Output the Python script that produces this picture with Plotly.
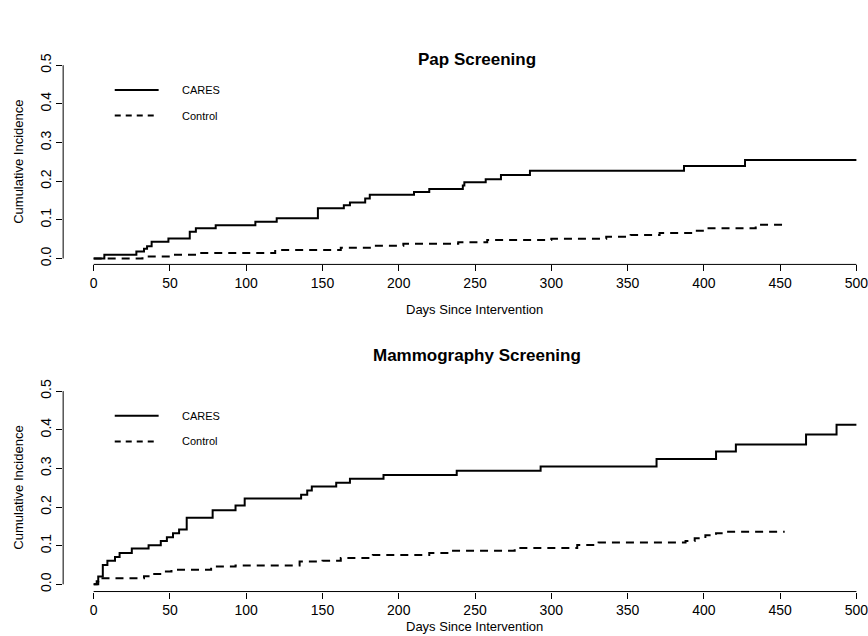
import plotly.graph_objects as go

# ---- data ----
pap_cares_days = [0, 7, 28, 33, 35, 38, 49, 63, 67, 80, 106, 120, 147, 164, 168, 178, 181,
                  210, 220, 242, 243, 257, 267, 286, 387, 427, 500]
pap_cares_ci = [0, 0.010, 0.018, 0.025, 0.032, 0.043, 0.052, 0.069, 0.078, 0.086, 0.095, 0.104,
                0.130, 0.138, 0.145, 0.155, 0.165, 0.172, 0.180, 0.189, 0.197, 0.205, 0.216,
                0.227, 0.239, 0.255, 0.255]

pap_control_days = [0, 32, 50, 69, 119, 162, 185, 203, 239, 258, 300, 336, 352, 371, 393, 400, 434, 454]
pap_control_ci = [0, 0.005, 0.0095, 0.014, 0.022, 0.028, 0.033, 0.038, 0.042, 0.048, 0.051,
                  0.056, 0.061, 0.066, 0.072, 0.078, 0.087, 0.087]

mammo_cares_days = [0, 2, 3, 6, 9, 14, 17, 25, 36, 44, 48, 52, 56, 61, 78, 93, 99, 136, 140, 143,
                    159, 168, 190, 238, 293, 369, 408, 421, 467, 487, 500]
mammo_cares_ci = [0, 0.008, 0.020, 0.050, 0.061, 0.071, 0.081, 0.093, 0.101, 0.112, 0.122, 0.132,
                  0.142, 0.172, 0.192, 0.204, 0.222, 0.232, 0.243, 0.253, 0.263, 0.273, 0.283,
                  0.294, 0.305, 0.324, 0.344, 0.362, 0.388, 0.413, 0.413]

mammo_control_days = [0, 3, 33, 39, 45, 51, 77, 93, 135, 150, 162, 183, 220, 233, 276, 317, 331,
                      388, 394, 401, 408, 414, 453]
mammo_control_ci = [0, 0.016, 0.021, 0.027, 0.033, 0.038, 0.046, 0.049, 0.059, 0.061, 0.068,
                    0.076, 0.081, 0.087, 0.094, 0.102, 0.108, 0.112, 0.119, 0.127, 0.132, 0.136,
                    0.136]

panel_titles = ["Pap Screening", "Mammography Screening"]
series_names = ["CARES", "Control"]
x_ticks = [0, 50, 100, 150, 200, 250, 300, 350, 400, 450, 500]
y_ticks = [0.0, 0.1, 0.2, 0.3, 0.4, 0.5]
x_label = "Days Since Intervention"
y_label = "Cumulative Incidence"

# ---- figure ----
W, H = 868, 636
FONT = "Liberation Sans, Arial, Helvetica, sans-serif"
fig = go.Figure()

panels = [
    dict(cares=(pap_cares_days, pap_cares_ci), control=(pap_control_days, pap_control_ci),
         xa="x", ya="y", dom=[1 - 261.7 / H, 1 - 54 / H], yr=[-0.0153, 0.5153],
         title_y=1 - 54 / H, xlab_y=1 - 307 / H),
    dict(cares=(mammo_cares_days, mammo_cares_ci), control=(mammo_control_days, mammo_control_ci),
         xa="x2", ya="y2", dom=[1 - 593 / H, 1 - 382.7 / H], yr=[-0.0187, 0.5187],
         title_y=1 - 354 / H, xlab_y=1 - 628 / H),
]

x_dom = [63.3 / W, 1.0]
x_range = [-20, 506.3]

shapes = []
annotations = []
for i, p in enumerate(panels):
    d, v = p["cares"]
    fig.add_trace(go.Scatter(x=d, y=v, mode="lines", line=dict(shape="hv", color="black", width=2),
                             name=series_names[0], showlegend=False, xaxis=p["xa"], yaxis=p["ya"]))
    d, v = p["control"]
    fig.add_trace(go.Scatter(x=d, y=v, mode="lines",
                             line=dict(shape="hv", color="black", width=2, dash="8px,6px"),
                             name=series_names[1], showlegend=False, xaxis=p["xa"], yaxis=p["ya"]))
    suffix = "" if i == 0 else "2"
    common_x = dict(domain=x_dom, range=x_range, tickvals=x_ticks, ticks="outside", ticklen=6,
                    tickwidth=1, tickcolor="black", showline=False, showgrid=False, zeroline=False,
                    ticklabeloverflow="allow",
                    tickfont=dict(family=FONT, size=14, color="black"), anchor="y" + suffix)
    common_y = dict(domain=p["dom"], range=p["yr"], tickvals=y_ticks, tickformat=".1f",
                    ticks="outside", ticklen=6, tickwidth=1, tickcolor="black", showline=False,
                    showgrid=False, zeroline=False, tickangle=-90,
                    tickfont=dict(family=FONT, size=14, color="black"), anchor="x" + suffix)
    fig.layout["xaxis" + suffix] = common_x
    fig.layout["yaxis" + suffix] = common_y
    xref = "x" + suffix
    yref = "y" + suffix
    # R-style axis lines spanning first to last tick
    shapes.append(dict(type="line", xref=xref, yref=yref + " domain", x0=x_ticks[0], x1=x_ticks[-1],
                       y0=0, y1=0, line=dict(color="black", width=1)))
    shapes.append(dict(type="line", xref=xref + " domain", yref=yref, x0=0, x1=0,
                       y0=y_ticks[0], y1=y_ticks[-1], line=dict(color="black", width=1)))
    # legend (drawn like R's legend box without border)
    for k, (yy, dash) in enumerate([(85, "solid"), (111, "6px,5px")]):
        ypix = yy if i == 0 else yy + 330
        ypap = 1 - ypix / H
        shapes.append(dict(type="line", xref="paper", yref="paper", x0=115 / W, x1=159 / W,
                           y0=ypap, y1=ypap, line=dict(color="black", width=2, dash=dash)))
        annotations.append(dict(xref="paper", yref="paper", x=180 / W, y=ypap, text=series_names[k],
                                showarrow=False, xanchor="left", yanchor="middle",
                                font=dict(family=FONT, size=11, color="black")))
    annotations.append(dict(xref="paper", yref="paper", x=478 / W, y=p["title_y"],
                            text="<b>" + panel_titles[i] + "</b>", showarrow=False,
                            xanchor="center", yanchor="middle",
                            font=dict(family=FONT, size=17, color="black")))
    annotations.append(dict(xref="paper", yref="paper", x=476 / W, y=p["xlab_y"], text=x_label,
                            showarrow=False, xanchor="center", yanchor="middle",
                            font=dict(family=FONT, size=13, color="black")))
    annotations.append(dict(xref="paper", yref=yref, x=19 / W, y=0.25, text=y_label,
                            textangle=-90, showarrow=False, xanchor="center", yanchor="middle",
                            font=dict(family=FONT, size=13, color="black")))

fig.update_layout(width=W, height=H, margin=dict(l=0, r=0, t=0, b=0), paper_bgcolor="white",
                  plot_bgcolor="white", shapes=shapes, annotations=annotations, showlegend=False)

fig.write_html("out.html", config={"displayModeBar": False},
               post_script="document.body.style.margin='0';document.body.style.overflow='hidden';")
